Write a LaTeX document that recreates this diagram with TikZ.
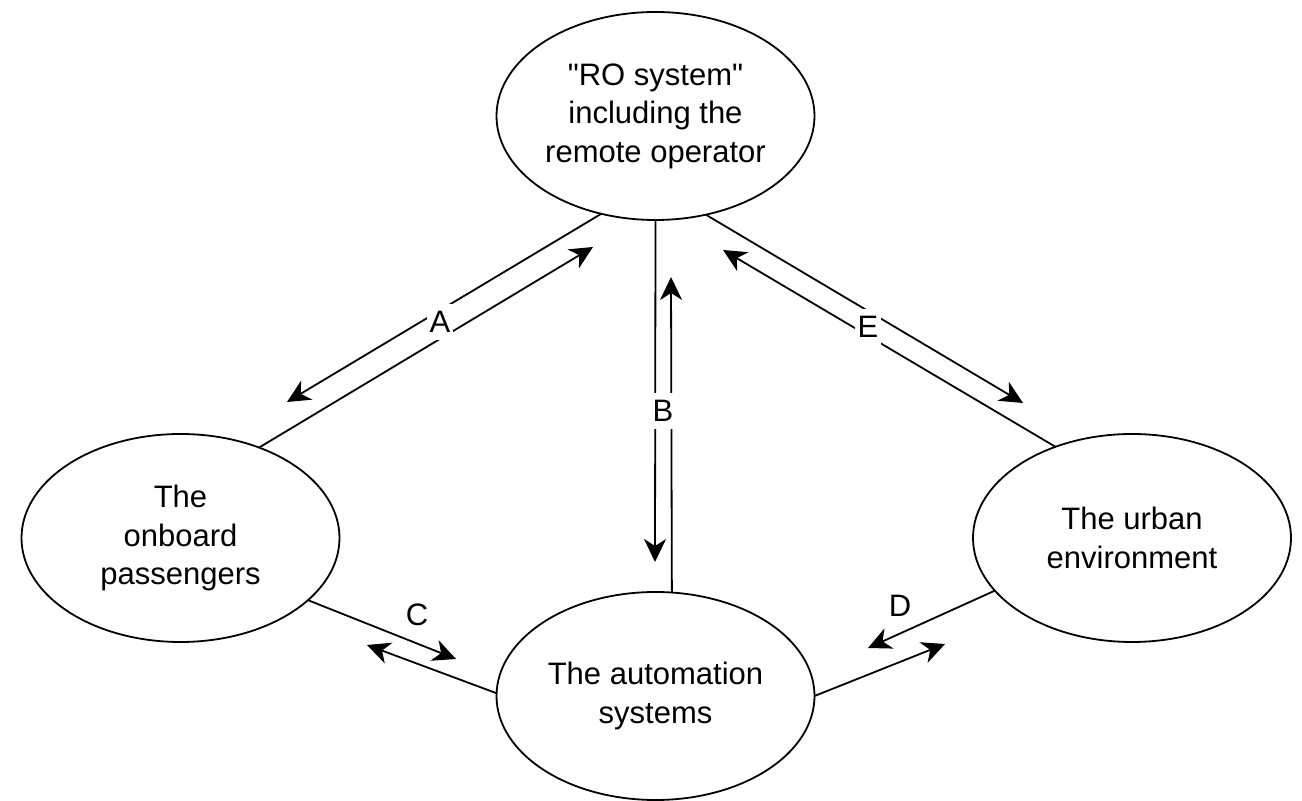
\documentclass[tikz,border=0pt]{standalone}
\usepackage{fontspec}
\newfontfamily\plainsans{Liberation Sans}
\usetikzlibrary{arrows.meta,shapes.geometric}
\begin{document}
\begin{tikzpicture}[x=0.5pt,y=-0.5pt,
  every node/.style={font=\plainsans\fontsize{15.5}{19.25}\selectfont},
  blob/.style={ellipse,draw,line width=0.9pt,minimum width=159pt,minimum height=104pt,inner sep=0pt,outer sep=0pt,align=center},
  link/.style={line width=0.9pt,-{Stealth[length=11.5pt,width=11pt,inset=3.5pt]}},
  tag/.style={fill=white,inner xsep=1.5pt,inner ysep=3.5pt},
  freetag/.style={inner sep=1pt}]
\useasboundingbox (0,0) rectangle (1302,801);
% nodes
\node[blob] (ro)   at (655.5,116) {"RO system"\\including the\\remote operator};
\node[blob] (pas)  at (180.5,538) {The\\onboard\\passengers};
\node[blob] (urb)  at (1132,538)  {The urban\\environment};
\node[blob] (aut)  at (655.5,696) {The automation\\systems};
% arrow tips
\coordinate (a1) at (287,402);
\coordinate (a2) at (593,247);
\coordinate (b1) at (655,562);
\coordinate (b2) at (671,277);
\coordinate (c1) at (456,659);
\coordinate (c2) at (367,645);
\coordinate (d1) at (868,648);
\coordinate (d2) at (945,644);
\coordinate (e1) at (1023,403);
\coordinate (e2) at (723,250);
% connectors
\draw[link] (ro.241.4) -- (a1);
\draw[link] (pas.49.4) -- (a2);
\draw[link] (ro.270) -- (b1);
\draw[link] (aut.81.6) -- (b2);
\draw[link] (pas.334) -- (c1);
\draw[link] (aut.179.6) -- (c2);
\draw[link] (urb.201.9) -- (d1);
\draw[link] (aut.0.4) -- (d2);
\draw[link] (ro.297) -- (e1);
\draw[link] (urb.130.8) -- (e2);
% labels
\node[tag] (la) at (440,322) {A};
\node[tag] (lb) at (663,411) {B};
\node[tag] (le) at (868,327) {E};
\node[freetag] (lc) at (417,615) {C};
\node[freetag] (ld) at (900,606) {D};
\end{tikzpicture}
\end{document}
